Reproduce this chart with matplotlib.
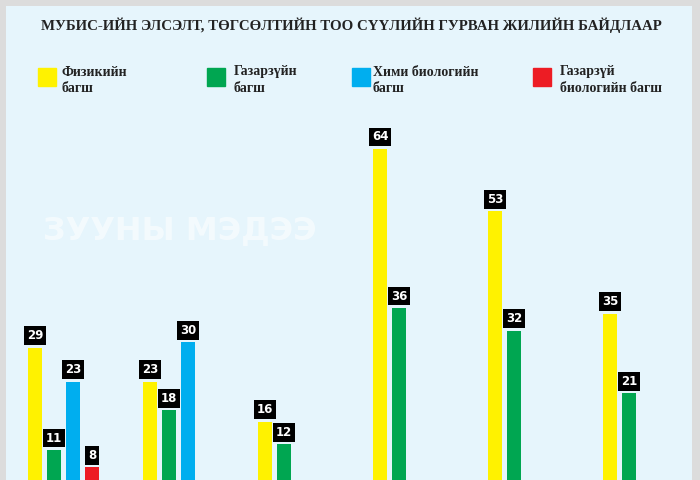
import matplotlib.pyplot as plt
import matplotlib.patches as mpatches

# data
title = "МУБИС-ИЙН ЭЛСЭЛТ, ТӨГСӨЛТИЙН ТОО СҮҮЛИЙН ГУРВАН ЖИЛИЙН БАЙДЛААР"
series_names = ["Физикийн\nбагш", "Газарзүйн\nбагш", "Хими биологийн\nбагш", "Газарзүй\nбиологийн багш"]
physics = [29, 23, 16, 64, 53, 35]
geography = [11, 18, 12, 36, 32, 21]
chem_bio = [23, 30, None, None, None, None]
geo_bio = [8, None, None, None, None, None]
series = [physics, geography, chem_bio, geo_bio]
colors = ["#FFF200", "#00A651", "#00AEEF", "#ED1C24"]

W, H = 700, 480
fig = plt.figure(figsize=(7, 4.8), dpi=100, facecolor="#dcdcdc")
ax = fig.add_axes([6 / W, 0, 686 / W, 474 / H])
ax.set_facecolor("#E6F5FC")

# layout: pixel mapping
g0, gstep, bstep, bw = 35.2, 115.0, 19.0, 14.0
base, per = 512.5, 5.68
ax.set_xlim((6 - g0) / gstep, (692 - g0) / gstep)
ax.set_ylim((base - 480) / per, (base - 6) / per)
for s in ax.spines.values():
    s.set_visible(False)
ax.set_xticks([])
ax.set_yticks([])

off = bstep / gstep
for j, vals in enumerate(series):
    for i, v in enumerate(vals):
        if v is None:
            continue
        x = i + j * off
        ax.bar(x, v, width=bw / gstep, color=colors[j], align="center", zorder=2)
        ax.text(x, v + 5.5 / per, str(v), ha="center", va="bottom", color="white",
                fontsize=8.5, fontweight="bold", family="DejaVu Sans",
                bbox=dict(boxstyle="square,pad=0.25", fc="black", ec="none"), zorder=3)

# watermark
fig.text(43 / W, 1 - 239 / H, "ЗУУНЫ МЭДЭЭ", color="white", alpha=0.55, fontsize=23,
         fontweight="bold", family="DejaVu Sans", va="baseline", ha="left")

# title
fig.text(351 / W, 1 - 30 / H, title, ha="center", va="baseline", fontsize=10.75,
         fontweight="bold", family="Liberation Serif", color="#222222")

# legend
leg_sq = [38, 207, 352, 533]
leg_tx = [62, 234, 373, 560]
for k in range(4):
    fig.patches.append(mpatches.Rectangle((leg_sq[k] / W, 1 - 86 / H), 18 / W, 18 / H,
                                          transform=fig.transFigure, color=colors[k]))
    fig.text(leg_tx[k] / W, 1 - 92 / H, series_names[k], ha="left", va="baseline",
             fontsize=10, fontweight="bold", family="Liberation Serif", color="#222222",
             linespacing=1.35)

fig.savefig("out.png", dpi=100, facecolor=fig.get_facecolor())
